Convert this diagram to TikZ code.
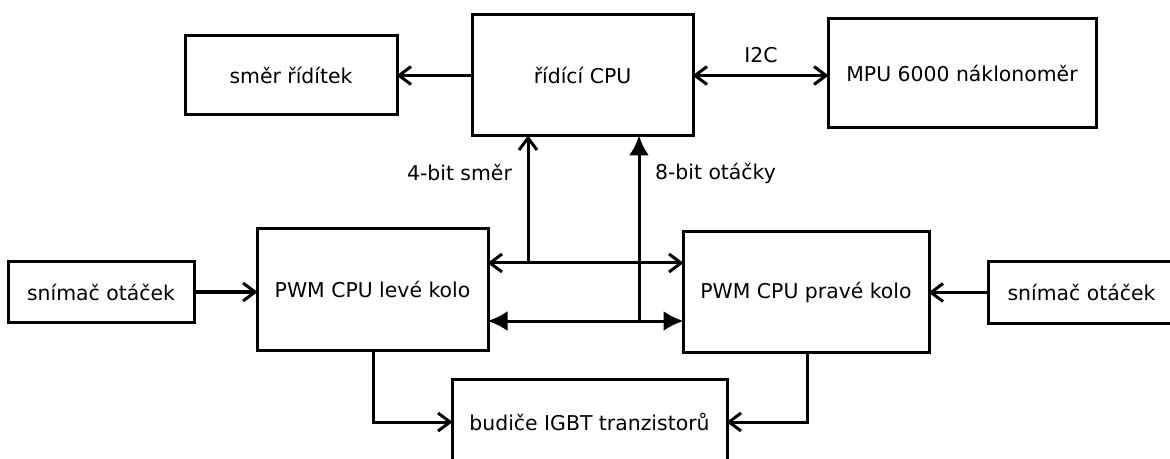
\documentclass[tikz,border=0pt]{standalone}
\usepackage{fontspec}
\setmainfont{DejaVu Sans}
\usetikzlibrary{arrows.meta}
\tikzset{
  box/.style={draw, line width=1.5pt, inner sep=0pt, font=\fontsize{10.2}{12}\selectfont},
  lbl/.style={font=\fontsize{10.2}{12}\selectfont},
  op/.style={line width=1.5pt, shorten >=-1pt, -{Straight Barb[length=6pt,width=9pt]}},
  opboth/.style={line width=1.5pt, shorten >=-1pt, shorten <=-1pt, {Straight Barb[length=6pt,width=9pt]}-{Straight Barb[length=6pt,width=9pt]}},
  fi/.style={line width=1.5pt, shorten >=-1pt, -{Latex[length=10pt,width=10pt]}},
  fiboth/.style={line width=1.5pt, shorten >=-1pt, shorten <=-1pt, {Latex[length=10pt,width=10pt]}-{Latex[length=10pt,width=10pt]}}
}
\begin{document}
\begin{tikzpicture}[x=0.5pt,y=-0.5pt]
    \useasboundingbox (0,0) rectangle (1170,459);
    \clip (0,0) rectangle (1170,459);
    \node[box, minimum width=106pt, minimum height=39.5pt] (smer) at (291,75.5) {směr řídítek};
    \node[box, minimum width=110.5pt, minimum height=60.5pt] (ridici) at (582.5,75.5) {řídící CPU};
    \node[box, minimum width=134pt, minimum height=54.5pt] (mpu) at (962,73.5) {MPU 6000 náklonoměr};
    \node[box, minimum width=93pt, minimum height=30pt] (snimL) at (101,292) {snímač otáček};
    \node[box, minimum width=115.5pt, minimum height=60.5pt] (levy) at (372.5,289.5) {PWM CPU levé kolo};
    \node[box, minimum width=123pt, minimum height=60pt] (pravy) at (806,292) {PWM CPU pravé kolo};
    \node[box, minimum width=93.5pt, minimum height=30.5pt] (snimR) at (1081.5,292.5) {snímač otáček};
    \node[box, minimum width=137.5pt, minimum height=43pt] (budic) at (589.5,422) {budiče IGBT tranzistorů};
    \coordinate (ta) at (528,263);
    \coordinate (tb) at (639,321);
    \coordinate (lb) at (373,423);
    \coordinate (pb) at (807,422);
    \draw[op] (ridici.west) -- (smer.east);
    \draw[opboth] (ridici.east) -- (ridici.east -| mpu.west);
    \node[lbl] (i2c) at (761,55) {I2C};
    \draw[opboth] (levy.east |- ta) -- (pravy.west |- ta);
    \draw[op] (ta) -- (ta |- ridici.south);
    \node[lbl, anchor=east] (smerbit) at (519,173) {4-bit směr};
    \draw[fiboth] (levy.east |- tb) -- (pravy.west |- tb);
    \draw[fi] (tb) -- (tb |- ridici.south);
    \node[lbl, anchor=west] (otbit) at (648,173) {8-bit otáčky};
    \draw[op] (snimL.east) -- (snimL.east -| levy.west);
    \draw[op] (snimR.west) -- (snimR.west -| pravy.east);
    \draw[op] (lb |- levy.south) |- (budic.west);
    \draw[op] (pb |- pravy.south) |- (budic.east);
\end{tikzpicture}
\end{document}
